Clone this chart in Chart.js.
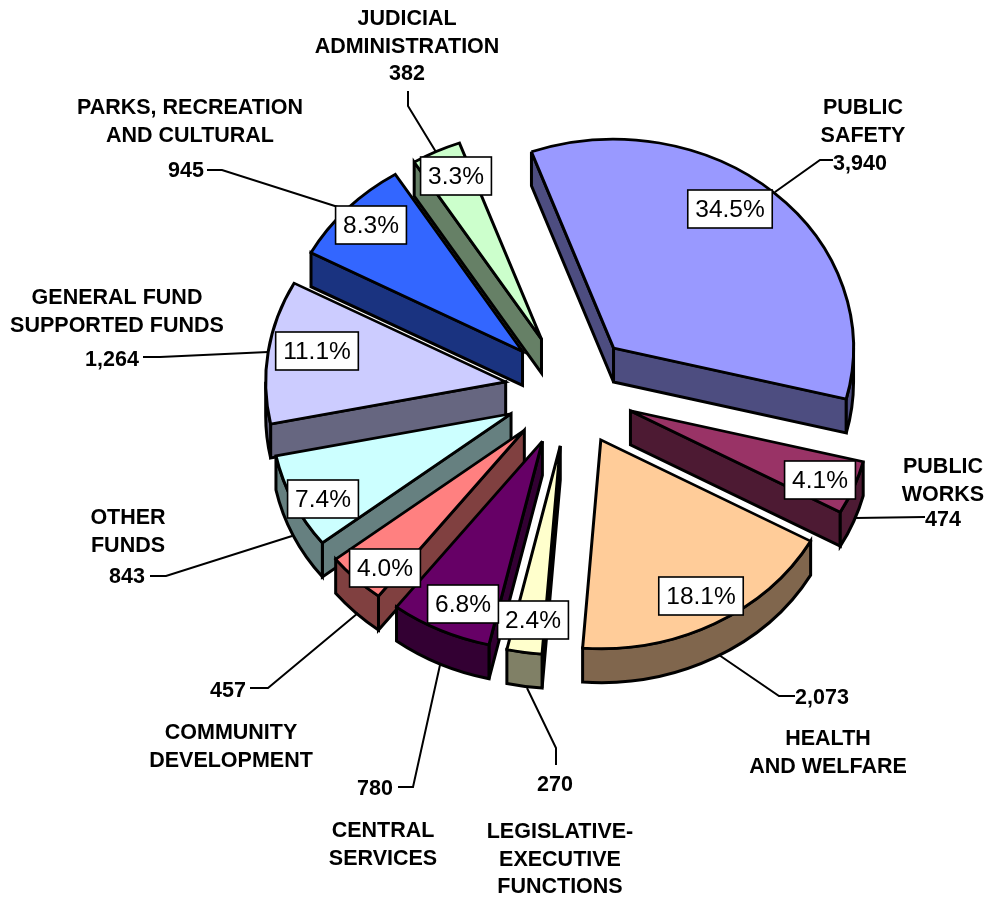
<!DOCTYPE html>
<html>
<head>
<meta charset="utf-8">
<style>html,body{margin:0;padding:0;background:#fff}#wrap{width:988px;height:898px}canvas{display:block}</style>
<script src="https://cdn.jsdelivr.net/npm/chart.js@4/dist/chart.umd.js"></script>
</head>
<body>
<div id="wrap"><canvas id="c" width="988" height="898"></canvas></div>
<script>
// ---- data ----
const categoryNames = ["PUBLIC SAFETY","PUBLIC WORKS","HEALTH AND WELFARE","LEGISLATIVE-EXECUTIVE FUNCTIONS","CENTRAL SERVICES","COMMUNITY DEVELOPMENT","OTHER FUNDS","GENERAL FUND SUPPORTED FUNDS","PARKS, RECREATION AND CULTURAL","JUDICIAL ADMINISTRATION"];
const seriesValues = [3940,474,2073,270,780,457,843,1264,945,382];
const valueLabels = ["3,940","474","2,073","270","780","457","843","1,264","945","382"];
const topColors = ["#9999FF","#993366","#FFCC99","#FFFFCC","#660066","#FF8080","#CCFFFF","#CCCCFF","#3366FF","#CCFFCC"];
const sideColors = ["#4D4D80","#4D1A33","#80664D","#808066","#330033","#804040","#668080","#666680","#1A3380","#668066"];

// ---- layout of annotations (not data) ----
const nameLines = [["PUBLIC","SAFETY"],["PUBLIC","WORKS"],["HEALTH","AND WELFARE"],["LEGISLATIVE-","EXECUTIVE","FUNCTIONS"],["CENTRAL","SERVICES"],["COMMUNITY","DEVELOPMENT"],["OTHER","FUNDS"],["GENERAL FUND","SUPPORTED FUNDS"],["PARKS, RECREATION","AND CULTURAL"],["JUDICIAL","ADMINISTRATION"]];
const nameAnchors = [[863,108],[943,467],[828,739],[560,832],[383,831],[231,733],[128,518],[117,298],[190,108],[407,19]];
const valueAnchors = [[860,164],[943,520],[822,698],[555,785],[375,789],[228,691],[127,577],[112,360],[186,171],[407,74]];
const pctAnchors = [[730,209],[820,480],[701,596],[533,620],[463,604],[385,568],[323,499],[317,351],[371,225],[456,176]];
const leaders = [
  [[833,160],[820,160],[775,192]],
  [[925,517],[855,518]],
  [[795,696],[779,696],[719,655]],
  [[556,765],[556,748],[527,688]],
  [[398,787],[413,787],[440,665]],
  [[250,688],[268,688],[358,613]],
  [[150,576],[166,576],[292,536]],
  [[143,357],[160,357],[268,352]],
  [[207,170],[222,170],[338,207]],
  [[408,91],[408,106],[436,152]]
];
const SQUASH = 0.87, EXPLODE = 65, DEPTH = 34, LINE = 3;
const FONT = '"Liberation Sans", Arial, sans-serif';

const pie3d = {
  id: 'pie3d',
  beforeDatasetDraw(chart, args) {
    const ctx = chart.ctx;
    const arcs = args.meta.data.map((a, i) => ({a, i, m: (a.startAngle + a.endAngle) / 2}));
    arcs.sort((p, q) => Math.sin(p.m) - Math.sin(q.m));
    ctx.save();
    ctx.lineJoin = 'miter';
    ctx.miterLimit = 4;
    for (const {a, i, m} of arcs) {
      const r = a.outerRadius, s = a.startAngle, e = a.endAngle;
      const ax = a.x + Math.cos(m) * EXPLODE, ay = a.y + SQUASH * Math.sin(m) * EXPLODE;
      const px = t => ax + r * Math.cos(t), py = t => ay + SQUASH * r * Math.sin(t);
      ctx.fillStyle = sideColors[i];
      ctx.strokeStyle = '#000';
      ctx.lineWidth = LINE;
      const wall = t => {
        ctx.beginPath();
        ctx.moveTo(ax, ay); ctx.lineTo(px(t), py(t));
        ctx.lineTo(px(t), py(t) + DEPTH); ctx.lineTo(ax, ay + DEPTH);
        ctx.closePath(); ctx.fill(); ctx.stroke();
      };
      if (Math.cos(s) < 0) wall(s);
      if (Math.cos(e) > 0) wall(e);
      for (const shift of [-2 * Math.PI, 0, 2 * Math.PI]) {
        const t0 = Math.max(s, shift), t1 = Math.min(e, shift + Math.PI);
        if (t1 > t0) {
          ctx.beginPath();
          ctx.ellipse(ax, ay, r, SQUASH * r, 0, t0, t1);
          ctx.ellipse(ax, ay + DEPTH, r, SQUASH * r, 0, t1, t0, true);
          ctx.closePath(); ctx.fill(); ctx.stroke();
        }
      }
      ctx.save();
      ctx.translate(ax, ay);
      ctx.scale(1, SQUASH);
      ctx.translate(-a.x, -a.y);
      a.draw(ctx);
      ctx.restore();
    }
    ctx.restore();
    return false;
  },
  afterDraw(chart) {
    const ctx = chart.ctx;
    const total = seriesValues.reduce((x, y) => x + y, 0);
    ctx.save();
    ctx.strokeStyle = '#000';
    ctx.lineWidth = 2;
    ctx.lineJoin = 'miter';
    for (const pts of leaders) {
      ctx.beginPath();
      pts.forEach((p, j) => j ? ctx.lineTo(p[0], p[1]) : ctx.moveTo(p[0], p[1]));
      ctx.stroke();
    }
    ctx.textAlign = 'center';
    ctx.textBaseline = 'middle';
    ctx.fillStyle = '#000';
    ctx.font = 'bold 21.5px ' + FONT;
    nameLines.forEach((lines, i) => {
      lines.forEach((t, j) => ctx.fillText(t, nameAnchors[i][0], nameAnchors[i][1] + j * 27.6));
      ctx.fillText(valueLabels[i], valueAnchors[i][0], valueAnchors[i][1]);
    });
    ctx.font = '24.5px ' + FONT;
    seriesValues.forEach((v, i) => {
      const t = (v / total * 100).toFixed(1) + '%';
      const w = ctx.measureText(t).width + 15, h = 38;
      const [x, y] = pctAnchors[i];
      ctx.fillStyle = '#fff';
      ctx.lineWidth = 1.6;
      ctx.fillRect(x - w / 2, y - h / 2, w, h);
      ctx.strokeRect(x - w / 2, y - h / 2, w, h);
      ctx.fillStyle = '#000';
      ctx.fillText(t, x, y + 1);
    });
    ctx.restore();
  }
};

new Chart(document.getElementById('c'), {
  type: 'pie',
  data: {
    labels: categoryNames,
    datasets: [{
      data: seriesValues,
      backgroundColor: topColors,
      borderColor: '#000',
      borderWidth: LINE,
      borderAlign: 'center',
      borderJoinStyle: 'miter',
      radius: 240
    }]
  },
  options: {
    responsive: false,
    animation: false,
    rotation: -20,
    layout: {padding: {left: 152, right: 0, top: 0, bottom: 118}},
    plugins: {legend: {display: false}, tooltip: {enabled: false}}
  },
  plugins: [pie3d]
});
</script>
</body>
</html>
